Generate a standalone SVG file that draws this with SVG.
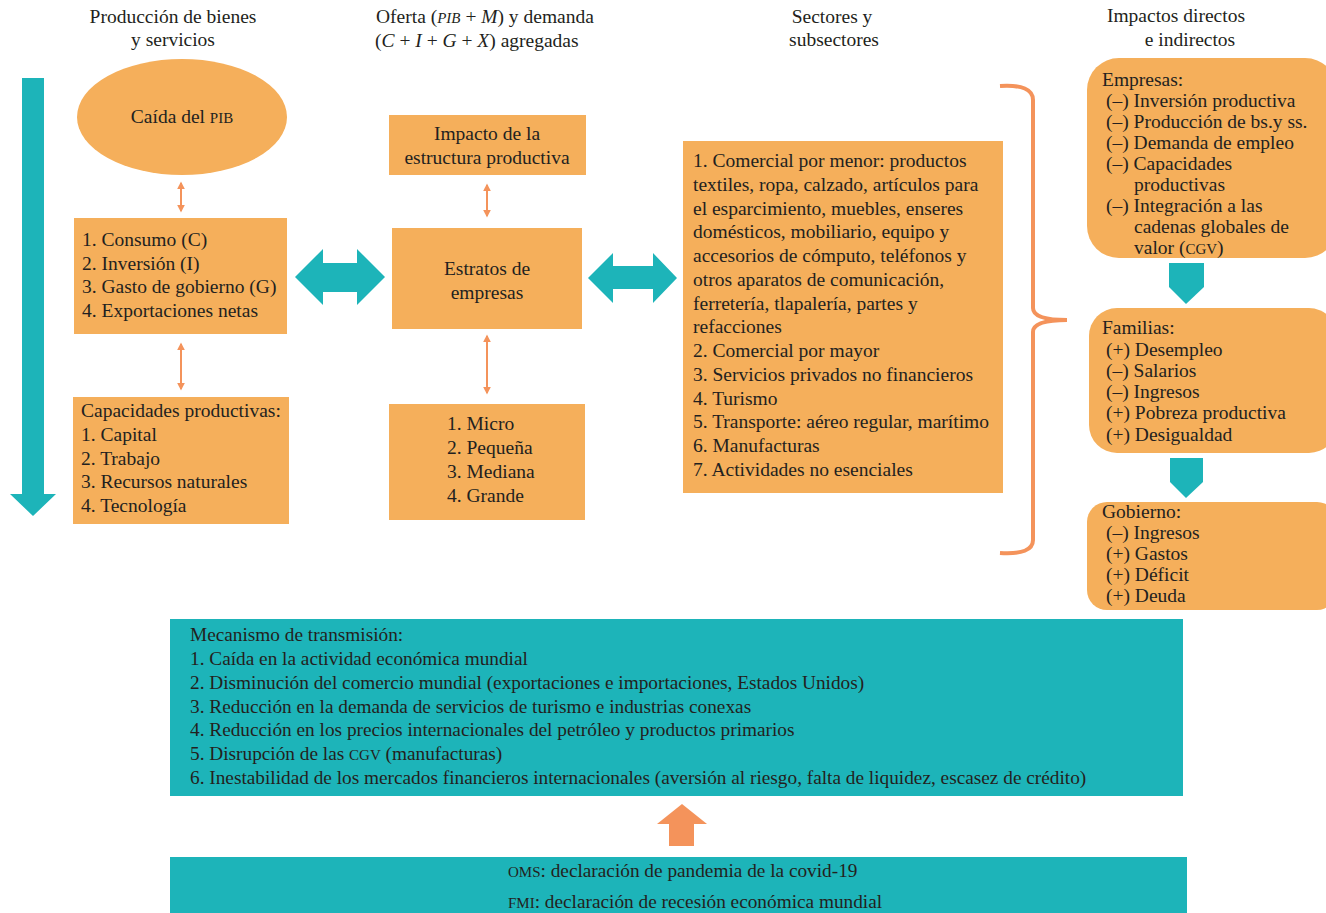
<svg xmlns="http://www.w3.org/2000/svg" width="1326" height="913" viewBox="0 0 1326 913">
<style>
text{font-family:"Liberation Serif",serif;font-size:19.5px;fill:#231F20}
.c{text-anchor:middle}
.m{font-size:19.3px}
.box{fill:#F5AF5B}
.teal{fill:#1DB4B9}
.sal{fill:#F4935B}
.dbl{stroke:#F4935B;stroke-width:2;fill:none;marker-start:url(#ah);marker-end:url(#ah)}
.sc{font-size:15px}
</style>
<defs>
<marker id="ah" viewBox="0 0 10 10" refX="8" refY="5" markerWidth="4" markerHeight="4" orient="auto-start-reverse" markerUnits="strokeWidth">
<path d="M0,0 L10,5 L0,10 z" fill="#F4935B"/>
</marker>
</defs>
<rect width="1326" height="913" fill="#fff"/>

<g id="headers">
<text class="c" x="173" y="23">Producción de bienes</text>
<text class="c" x="173" y="46">y servicios</text>
<text x="376" y="23">Oferta (<tspan font-style="italic" class="sc">PIB</tspan> + <tspan font-style="italic">M</tspan>) y demanda</text>
<text x="375" y="47">(<tspan font-style="italic">C</tspan> + <tspan font-style="italic">I</tspan> + <tspan font-style="italic">G</tspan> + <tspan font-style="italic">X</tspan>) agregadas</text>
<text class="c" x="832" y="23">Sectores y</text>
<text class="c" x="834" y="46">subsectores</text>
<text class="c" x="1176" y="22">Impactos directos</text>
<text class="c" x="1190" y="46">e indirectos</text>
</g>

<g id="flow-arrow">
<path class="teal" d="M22,78 H44 V494 H56 L33,516 L10,494 H22 Z"/>
</g>

<g id="caida">
<ellipse class="box" cx="182" cy="117" rx="105" ry="58"/>
<text class="c" x="182" y="123">Caída del <tspan class="sc">PIB</tspan></text>
</g>

<g id="demanda">
<rect class="box" x="74" y="218" width="213" height="116"/>
<text x="82" y="246">1. Consumo (C)</text>
<text x="82" y="269.5">2. Inversión (I)</text>
<text x="82" y="293">3. Gasto de gobierno (G)</text>
<text x="82" y="316.5">4. Exportaciones netas</text>
</g>

<g id="capacidades">
<rect class="box" x="73" y="397" width="216" height="127"/>
<text x="81" y="417">Capacidades productivas:</text>
<text x="81" y="441">1. Capital</text>
<text x="81" y="464.5">2. Trabajo</text>
<text x="81" y="488">3. Recursos naturales</text>
<text x="81" y="512">4. Tecnología</text>
</g>

<g id="impacto">
<rect class="box" x="389" y="115" width="197" height="60"/>
<text class="c" x="487" y="140">Impacto de la</text>
<text class="c" x="487" y="164">estructura productiva</text>
</g>

<g id="estratos">
<rect class="box" x="392" y="228" width="190" height="101"/>
<text class="c" x="487" y="275">Estratos de</text>
<text class="c" x="487" y="299">empresas</text>
</g>

<g id="tamanos">
<rect class="box" x="389" y="404" width="196" height="116"/>
<text x="447" y="430">1. Micro</text>
<text x="447" y="454">2. Pequeña</text>
<text x="447" y="478">3. Mediana</text>
<text x="447" y="502">4. Grande</text>
</g>

<g id="sectores">
<rect class="box" x="683" y="141" width="320" height="352"/>
<text x="693" y="167">1. Comercial por menor: productos</text>
<text x="693" y="190.75">textiles, ropa, calzado, artículos para</text>
<text x="693" y="214.5">el esparcimiento, muebles, enseres</text>
<text x="693" y="238.25">domésticos, mobiliario, equipo y</text>
<text x="693" y="262">accesorios de cómputo, teléfonos y</text>
<text x="693" y="285.75">otros aparatos de comunicación,</text>
<text x="693" y="309.5">ferretería, tlapalería, partes y</text>
<text x="693" y="333.25">refacciones</text>
<text x="693" y="357">2. Comercial por mayor</text>
<text x="693" y="380.75">3. Servicios privados no financieros</text>
<text x="693" y="404.5">4. Turismo</text>
<text x="693" y="428.25">5. Transporte: aéreo regular, marítimo</text>
<text x="693" y="452">6. Manufacturas</text>
<text x="693" y="475.75">7. Actividades no esenciales</text>
</g>

<g id="empresas">
<rect class="box" x="1087" y="58" width="250" height="200" rx="32"/>
<text x="1102" y="86">Empresas:</text>
<text x="1106" y="107">(–) Inversión productiva</text>
<text x="1106" y="128">(–) Producción de bs.y ss.</text>
<text x="1106" y="149">(–) Demanda de empleo</text>
<text x="1106" y="170">(–) Capacidades</text>
<text x="1134" y="191">productivas</text>
<text x="1106" y="212">(–) Integración a las</text>
<text x="1134" y="233">cadenas globales de</text>
<text x="1134" y="254">valor (<tspan class="sc">CGV</tspan>)</text>
</g>

<g id="familias">
<rect class="box" x="1089" y="308" width="248" height="145" rx="28"/>
<text x="1102" y="334">Familias:</text>
<text x="1106" y="356">(+) Desempleo</text>
<text x="1106" y="377">(–) Salarios</text>
<text x="1106" y="398">(–) Ingresos</text>
<text x="1106" y="419">(+) Pobreza productiva</text>
<text x="1106" y="441">(+) Desigualdad</text>
</g>

<g id="gobierno">
<rect class="box" x="1087" y="502" width="250" height="108" rx="20"/>
<text x="1102" y="518">Gobierno:</text>
<text x="1106" y="539">(–) Ingresos</text>
<text x="1106" y="560">(+) Gastos</text>
<text x="1106" y="581">(+) Déficit</text>
<text x="1106" y="602">(+) Deuda</text>
</g>

<g id="mecanismo">
<rect class="teal" x="170" y="619" width="1013" height="177"/>
<text class="m" x="190" y="641">Mecanismo de transmisión:</text>
<text class="m" x="190" y="665">1. Caída en la actividad económica mundial</text>
<text class="m" x="190" y="688.5">2. Disminución del comercio mundial (exportaciones e importaciones, Estados Unidos)</text>
<text class="m" x="190" y="712.5">3. Reducción en la demanda de servicios de turismo e industrias conexas</text>
<text class="m" x="190" y="736">4. Reducción en los precios internacionales del petróleo y productos primarios</text>
<text class="m" x="190" y="760">5. Disrupción de las <tspan class="sc">CGV</tspan> (manufacturas)</text>
<text class="m" x="190" y="784">6. Inestabilidad de los mercados financieros internacionales (aversión al riesgo, falta de liquidez, escasez de crédito)</text>
</g>

<g id="declaraciones">
<rect class="teal" x="170" y="857" width="1017" height="56"/>
<text class="m" x="508" y="877"><tspan class="sc">OMS</tspan>: declaración de pandemia de la covid-19</text>
<text class="m" x="508" y="908"><tspan class="sc">FMI</tspan>: declaración de recesión económica mundial</text>
</g>

<g id="connectors">
<line class="dbl" x1="181" y1="183" x2="181" y2="211"/>
<line class="dbl" x1="181" y1="344" x2="181" y2="389"/>
<line class="dbl" x1="487" y1="185" x2="487" y2="216"/>
<line class="dbl" x1="487" y1="336" x2="487" y2="393"/>
<path class="teal" d="M295,277 L323,249 V263 H357 V249 L385,277 L357,305 V292 H323 V305 Z"/>
<path class="teal" d="M588,278 L613,253 V266 H653 V253 L677,278 L653,303 V289 H613 V303 Z"/>
<path d="M1000,86 Q1033,84 1033,100 L1033,308 Q1033,320 1067,320 Q1033,320 1033,332 L1033,540 Q1033,555 1000,553" fill="none" stroke="#F4935B" stroke-width="4"/>
<path class="teal" d="M1169,263 H1204 V287 L1186,304 L1169,287 Z"/>
<path class="teal" d="M1170,458 H1203 V482 L1186,498 L1170,482 Z"/>
<path class="sal" d="M669,846 V824 H657 L682,804 L707,824 H694 V846 Z"/>
</g>
</svg>
